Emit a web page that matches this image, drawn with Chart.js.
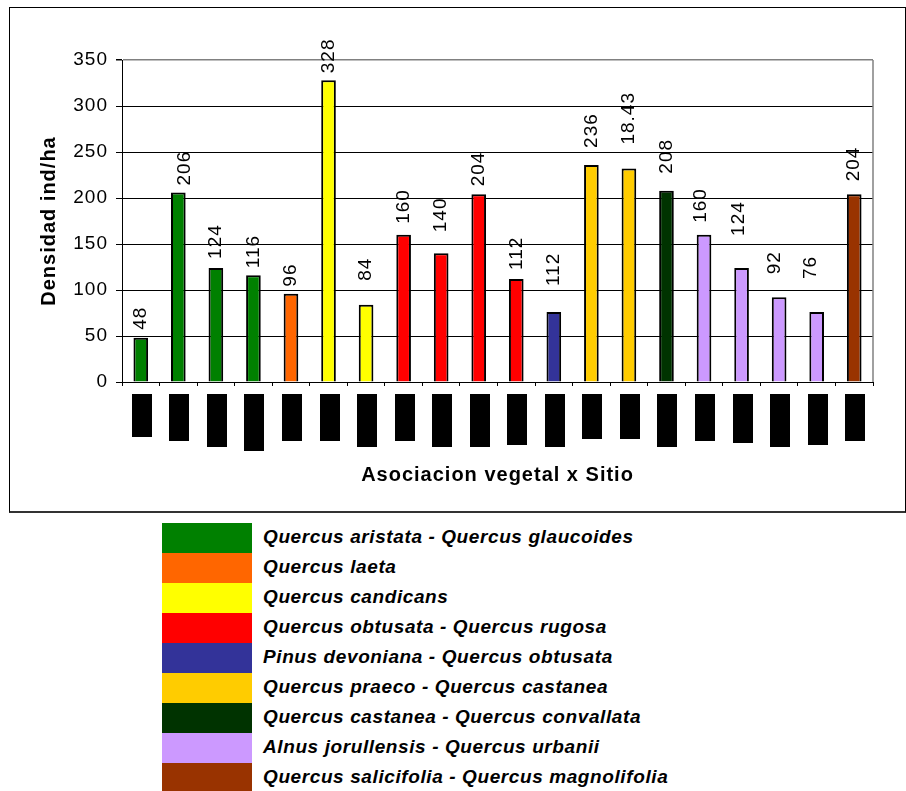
<!DOCTYPE html>
<html>
<head>
<meta charset="utf-8">
<script src="https://cdn.jsdelivr.net/npm/chart.js@4.4.1/dist/chart.umd.min.js"></script>
<style>
  body { margin: 0; background: #fff; width: 906px; height: 791px; overflow: hidden; position: relative; }
  #box { position: absolute; left: 9px; top: 7px; width: 897px; height: 506px; box-sizing: border-box;
         border: 1px solid #000; border-bottom: 2px solid #333; }
  #graph1 { display: block; }
  #legend { position: absolute; left: 162px; top: 523px; }
  .row { display: flex; height: 30px; align-items: flex-start; }
  .sw { width: 90px; height: 30px; }
  .txt { margin-left: 11px; position: relative; top: 3px; line-height: 30px; font: italic bold 19px 'Liberation Sans', Arial, sans-serif;
         letter-spacing: 0.6px; color: #000; white-space: nowrap; }
</style>
</head>
<body>
<div id="box"><canvas id="graph1" width="895" height="503"></canvas></div>
<div id="legend"></div>
<script>
// Densidad por asociacion vegetal y sitio

const groups = [
    'Quercus aristata - Quercus glaucoides',
    'Quercus laeta',
    'Quercus candicans',
    'Quercus obtusata - Quercus rugosa',
    'Pinus devoniana - Quercus obtusata',
    'Quercus praeco - Quercus castanea',
    'Quercus castanea - Quercus convallata',
    'Alnus jorullensis - Quercus urbanii',
    'Quercus salicifolia - Quercus magnolifolia',
];
const groupColors = ['#008000', '#FF6600', '#FFFF00', '#FF0000', '#333399', '#FFCC00', '#003300', '#CC99FF', '#993300'];

// uma barra por sitio (rotulos ocultos no original)
const sites = ['1', '2', '3', '4', '5', '6', '7', '8', '9', '10', '11', '12', '13', '14', '15', '16', '17', '18', '19', '20'];
const siteGroup = [0, 0, 0, 0, 1, 2, 2, 3, 3, 3, 3, 4, 5, 5, 6, 7, 7, 7, 7, 8];
const density = [48, 206, 124, 116, 96, 328, 84, 160, 140, 204, 112, 76, 236, 232, 208, 160, 124, 92, 76, 204];
const densityLabels = ['48', '206', '124', '116', '96', '328', '84', '160', '140', '204', '112', '112', '236', '18.43', '208', '160', '124', '92', '76', '204'];
const yTicks = [0, 50, 100, 150, 200, 250, 300, 350];

// comprimento dos rotulos tapados (caixas pretas)
const hiddenLabelLen = [43, 47, 53, 57, 47, 47, 53, 47, 53, 53, 51, 53, 45, 45, 53, 47, 49, 53, 51, 47];

Chart.defaults.font.family = "'Liberation Sans', Arial, sans-serif";
Chart.defaults.color = '#000';

// legenda em html
const legendEl = document.getElementById('legend');
groups.forEach((g, i) => {
    const row = document.createElement('div');
    row.className = 'row';
    row.innerHTML = '<div class="sw" style="background:' + groupColors[i] + '"></div><div class="txt">' + g + '</div>';
    legendEl.appendChild(row);
});

const spacingPlugin = {
    id: 'spacing',
    beforeUpdate(chart) { chart.ctx.letterSpacing = '1px'; },
    beforeDraw(chart) { chart.ctx.letterSpacing = '1px'; }
};

const barLabelPlugin = {
    id: 'barLabels',
    afterDatasetsDraw(chart, args, opts) {
        const ctx = chart.ctx;
        const meta = chart.getDatasetMeta(0);
        ctx.save();
        ctx.font = '19px ' + Chart.defaults.font.family;
        ctx.fillStyle = '#000';
        ctx.textAlign = 'left';
        ctx.textBaseline = 'middle';
        meta.data.forEach((bar, i) => {
            ctx.save();
            ctx.translate(bar.x + (opts.dx[i] || 0), bar.y - opts.gap[i]);
            ctx.rotate(-Math.PI / 2);
            ctx.fillText(densityLabels[i], 0, 0);
            ctx.restore();
        });
        ctx.restore();
    }
};

const framePlugin = {
    id: 'frame',
    afterDraw(chart) {
        const {ctx, chartArea} = chart;
        const x = chart.scales.x;
        ctx.save();
        ctx.strokeStyle = '#808080';
        ctx.lineWidth = 1.5;
        ctx.beginPath();
        ctx.moveTo(chartArea.right, chartArea.top);
        ctx.lineTo(chartArea.right, chartArea.bottom);
        ctx.stroke();
        ctx.fillStyle = '#000';
        sites.forEach((s, i) => {
            const px = x.getPixelForValue(i);
            ctx.fillRect(Math.round(px - 9), chartArea.bottom + 12, 20, hiddenLabelLen[i]);
        });
        ctx.restore();
    }
};

const config = {
    type: 'bar',
    data: {
        labels: sites,
        datasets: [{
            data: density,
            backgroundColor: siteGroup.map(g => groupColors[g]),
            borderColor: '#000',
            borderWidth: 2,
            barPercentage: 0.39,
            categoryPercentage: 1,
        }]
    },
    options: {
        responsive: false,
        animation: false,
        layout: { padding: { left: 0, top: 52, right: 32, bottom: 0 } },
        plugins: {
            legend: { display: false },
            tooltip: { enabled: false },
            barLabels: {
                gap: [8, 7, 9, 7, 7, 7, 24, 11, 21, 8, 9, 26, 17, 24, 17, 12, 32, 23, 33, 13],
                dx: [0, 6, 0, 0, 0, 0, 0, 0, 0, 0, 0, 0, 0, 0, 0, -3, -3, -4, -6, 0],
            }
        },
        scales: {
            x: {
                grid: { drawOnChartArea: false, tickLength: 4, color: '#000', offset: true },
                border: { color: '#000', width: 1 },
                ticks: { display: false },
                title: {
                    display: true,
                    text: 'Asociacion vegetal x Sitio',
                    font: { size: 20, weight: 'bold' },
                    padding: { top: 0, bottom: 24 },
                },
                afterFit(scale) { scale.height = 129; }
            },
            y: {
                min: 0,
                max: 350,
                afterBuildTicks(scale) { scale.ticks = yTicks.map(v => ({value: v})); },
                grid: {
                    color: ctx => (ctx.tick && ctx.tick.value === 350) ? '#808080' : '#000',
                    lineWidth: ctx => (ctx.tick && ctx.tick.value === 350) ? 1.5 : 1,
                    tickColor: '#000',
                    tickLength: 6,
                },
                border: { color: '#000', width: 1 },
                ticks: { font: { size: 19 }, padding: 8 },
                title: {
                    display: true,
                    text: 'Densidad ind/ha',
                    font: { size: 20, weight: 'bold' },
                    padding: { top: 27, bottom: 0 },
                },
                afterFit(scale) { scale.width = 112; }
            }
        }
    },
    plugins: [spacingPlugin, barLabelPlugin, framePlugin]
};

const densityChart = new Chart(document.getElementById('graph1'), config);
</script>
</body>
</html>
